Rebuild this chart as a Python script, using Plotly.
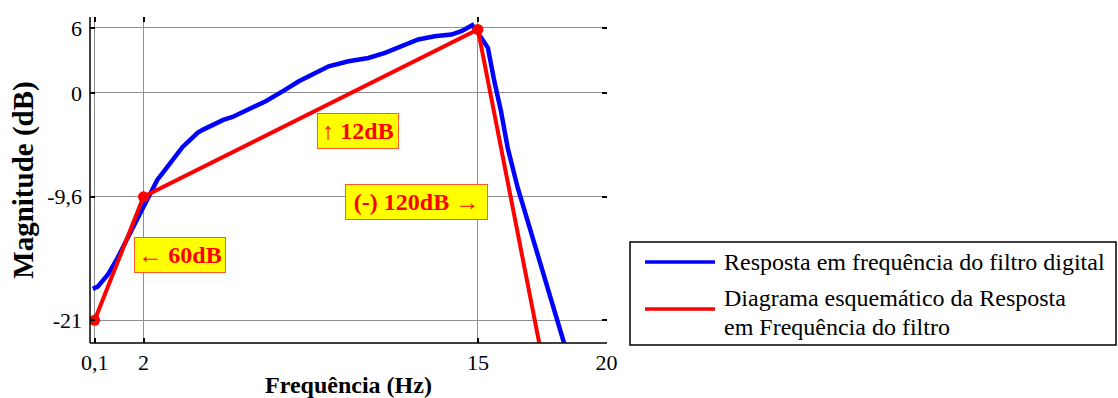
import plotly.graph_objects as go

# ---- data ----
blue_x = [0.03, 0.22, 0.61, 0.99, 1.38, 1.77, 2.22, 2.54, 2.75, 2.93, 3.13, 3.32, 3.52, 3.70,
          3.91, 4.10, 4.30, 4.55, 4.81, 5.10, 5.46, 6.10, 6.75, 7.39, 8.04, 8.68, 9.20, 9.97,
          10.74, 11.39, 12.03, 12.68, 13.32, 13.97, 14.36, 14.78, 15.13, 15.39, 15.64, 15.90,
          16.16, 16.55, 16.94, 17.32, 17.71, 18.10, 18.45]
blue_y = [-18.1, -17.9, -16.8, -15.26, -13.4, -11.56, -9.6, -8.02, -7.4, -6.8, -6.17, -5.6,
          -5.0, -4.6, -4.1, -3.7, -3.42, -3.1, -2.8, -2.5, -2.23, -1.56, -0.78, 0.11, 1.06,
          1.84, 2.45, 2.91, 3.22, 3.69, 4.30, 4.92, 5.22, 5.38, 5.69, 6.24, 5.08, 4.15, 1.06,
          -1.71, -5.09, -8.79, -11.87, -14.95, -18.03, -21.12, -23.9]
red_x = [0.1, 2, 15, 17.6]
red_y = [-21, -9.6, 5.85, -25.7]

x_ticks = [0.1, 2, 15, 20]
x_ticklabels = ["0,1", "2", "15", "20"]
y_ticks = [-21, -9.6, 0, 6]
y_ticklabels = ["-21", "-9,6", "0", "6"]

name_blue = "Resposta em frequência do filtro digital"
name_red_1 = "Diagrama esquemático da Resposta"
name_red_2 = "em Frequência do filtro"

notes = [("\u2191 12dB", 10.32, -3.54, 72),
         ("(-) 120dB \u2192", 12.62, -10.05, 133),
         ("\u2190 60dB", 3.43, -14.96, 82)]

# ---- layout geometry ----
W, H = 1118, 398
L, R_, T, B = 90, 607, 17, 343
def px(x):
    return (x - L) / (R_ - L)
def py(y):
    return (B - y) / (B - T)

SERIF = "Liberation Serif"

fig = go.Figure()
fig.add_trace(go.Scatter(x=blue_x, y=blue_y, mode="lines",
                         line=dict(color="#0000ff", width=4.5), name=name_blue,
                         showlegend=False))
fig.add_trace(go.Scatter(x=red_x, y=red_y, mode="lines+markers",
                         line=dict(color="#ff0000", width=4),
                         marker=dict(color="#ff0000", size=11),
                         name=name_red_1 + " " + name_red_2, showlegend=False,
                         cliponaxis=True))

annotations = []
for txt, ax_, ay_, w in notes:
    annotations.append(dict(x=ax_, y=ay_, xref="x", yref="y", text="<b>%s</b>" % txt,
                            showarrow=False, font=dict(family=SERIF, size=24, color="#ff0000"),
                            bgcolor="#ffff00", bordercolor="#ff5a2a", borderwidth=1,
                            borderpad=4, width=w))

# manual legend
for txt, yy in [(name_blue, 262), (name_red_1, 298), (name_red_2, 327)]:
    annotations.append(dict(x=px(722), y=py(yy), xref="paper", yref="paper", text=txt,
                            xanchor="left", yanchor="middle", showarrow=False,
                            font=dict(family=SERIF, size=24, color="#000000")))

shapes = [
    # axis lines (left and bottom)
    dict(type="line", xref="paper", yref="paper", x0=0, x1=1, y0=0, y1=0,
         line=dict(color="#000000", width=1.5)),
    dict(type="line", xref="paper", yref="paper", x0=0, x1=0, y0=0, y1=1,
         line=dict(color="#000000", width=1.5)),
    # legend box
    dict(type="rect", xref="paper", yref="paper", x0=px(630), x1=px(1116),
         y0=py(345), y1=py(242), line=dict(color="#000000", width=1.5),
         fillcolor="rgba(0,0,0,0)"),
    dict(type="line", xref="paper", yref="paper", x0=px(645), x1=px(715),
         y0=py(262), y1=py(262), line=dict(color="#0000ff", width=3.5)),
    dict(type="line", xref="paper", yref="paper", x0=px(645), x1=px(715),
         y0=py(309), y1=py(309), line=dict(color="#ff0000", width=3.5)),
]

fig.update_layout(
    width=W, height=H,
    margin=dict(l=L, r=W - R_, t=T, b=H - B, pad=0, autoexpand=False),
    paper_bgcolor="#ffffff", plot_bgcolor="#ffffff",
    font=dict(family=SERIF, size=22, color="#000000"),
    showlegend=False,
    annotations=annotations, shapes=shapes,
    xaxis=dict(range=[-0.08, 20.02], tickmode="array", tickvals=x_ticks,
               ticktext=x_ticklabels, showgrid=True, gridcolor="#8f8f8f", gridwidth=1,
               zeroline=False, showline=False, mirror="ticks", ticks="inside",
               ticklen=5, tickcolor="#000000", tickwidth=1.5, automargin=False,
               ticklabelstandoff=4,
               tickfont=dict(family=SERIF, size=22, color="#000000"),
               title=dict(text="<b>Frequência (Hz)</b>", standoff=7,
                          font=dict(family=SERIF, size=24, color="#000000"))),
    yaxis=dict(range=[-23.1, 7.0], tickmode="array", tickvals=y_ticks,
               ticktext=y_ticklabels, showgrid=True, gridcolor="#8f8f8f", gridwidth=1,
               zeroline=False, showline=False, mirror="ticks", ticks="inside",
               ticklen=5, tickcolor="#000000", tickwidth=1.5, automargin=False,
               ticklabelstandoff=7,
               tickfont=dict(family=SERIF, size=22, color="#000000"),
               title=dict(text="<b>Magnitude (dB)</b>", standoff=5,
                          font=dict(family=SERIF, size=29, color="#000000"))),
)

fig.write_html("out.html", config={"displayModeBar": False},
               post_script="document.body.style.margin='0';document.body.style.overflow='hidden';")
